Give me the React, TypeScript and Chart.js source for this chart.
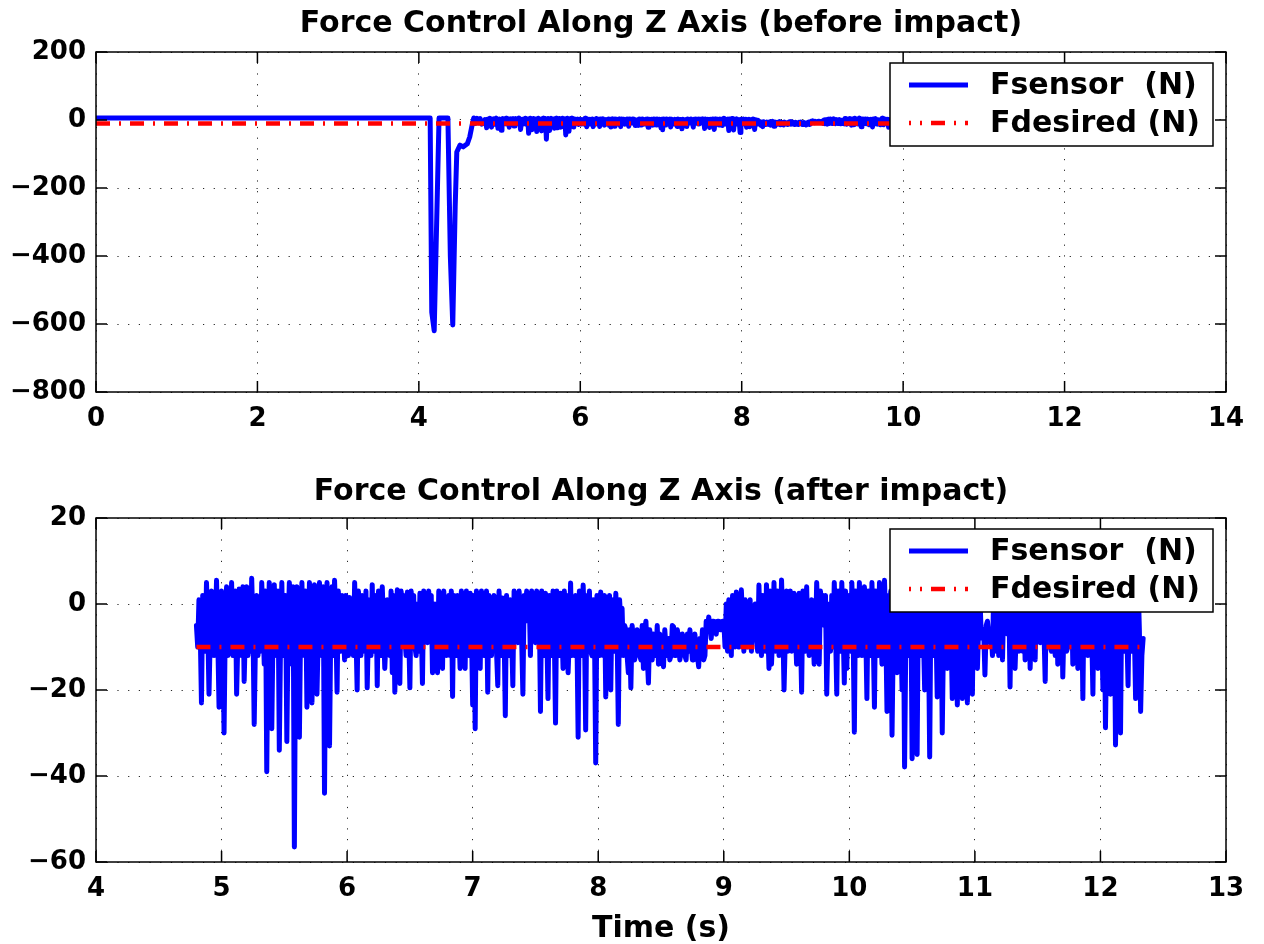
import React, { useEffect, useRef } from "react";
import { Chart, registerables } from "chart.js";

Chart.register(...registerables);

// ---------- text ----------
const topTitle = "Force Control Along Z Axis (before impact)";
const bottomTitle = "Force Control Along Z Axis (after impact)";
const xAxisTitle = "Time (s)";
const sensorLabel = "Fsensor  (N)";
const desiredLabel = "Fdesired (N)";

// ---------- ticks ----------
const topXTicks = [0, 2, 4, 6, 8, 10, 12, 14];
const topYTicks = [200, 0, -200, -400, -600, -800];
const bottomXTicks = [4, 5, 6, 7, 8, 9, 10, 11, 12, 13];
const bottomYTicks = [20, 0, -20, -40, -60];

// ---------- data ----------
// before and during impact (s, N)
const preImpactTime = [0, 4.14, 4.16, 4.19, 4.25, 4.36, 4.39, 4.42, 4.45, 4.47, 4.51, 4.55, 4.6, 4.63, 4.66, 4.68, 4.7, 4.72, 4.74, 4.76, 4.78];
const preImpactForce = [6, 6, -565, -620, 6, 6, -400, -603, -256, -94, -74, -79, -70, -50, -15, 6, -10, 5, -8, 4, -12];

// after impact: peak samples every 0.02 s from 4.80 s
const postImpactStart = 4.8;
const postImpactStep = 0.02;
const postImpactForce = [
  -5, 1, -23, -8, 5, -21, 3, -12, 5.5, -24,
  3, -30, 4, -8, 5, -10, -21, 3.5, -12, -18,
  4, -8, 6, -28, 2, -5, 5, -14, -39, 5,
  -29, 4.5, -12, -34, 5, -10, -32, 5, -14, -56.5,
  4, -31, 5, -12, -24, 5, -23, 4.5, -21, 5,
  -12, -44, 5, -33, 4, 5.5, -20.5, -5, 2, -13,
  -3, 1.5, -8, 5, -20, -2, 2, -10, -19.5, 1,
  4.5, -8, -19, -2, 4, -15, 1, -12, -16, -20.5,
  3.3, -18.5, -1, -8, 2.8, -19.5, -3, -10, 0, 2.5,
  -18.5, -2, -9, -5, -16, 0, -16, -1, -15, -7,
  -4, -12, -21.5, -3, 2, -15, -5, -15, -2, 2.5,
  -23.5, -29, -4, -15, -2, -6, -20.5, -1, -4, -3,
  -19, -6, 1.4, -26, -5, 1, -19, -3, -9, -2,
  -21, -3, -4, -12, -3, -9, -6, -25, -2, 2.5,
  -22, -1, 3, -27.7, -4, 2.5, -15, -3, -16, 4.9,
  -5, 2, -31, -3, 4.4, -29.3, -4, -11, 1, -37,
  -10, 2.8, -12, -21.6, -6, -20, -5, 2.5, -28, -4,
  -12, -6, -16, -19.5, -8, -11, -7, -13, -15, -4,
  -18.4, -9, -7, -12, -14, -8, -14.6, -10, -8, -12,
  -5.3, -12, -8, -11, -9, -13, -11, -9, -13, -11,
  -14.6, -12, -13, -4, -3, -8, -4, -7, -4, -6,
  -4, 0, 1, -12, -2, 2.8, -10, 3.3, -11, -3,
  -2, -11, -1.4, -8, 4.4, -12, -4, 4.5, -15, -14,
  5, -8, -12, 5.6, -20, 3, -7, -11, 2.5, -14,
  2.5, -20.5, -2, 4, -12, 1, -14, 5, -14, -1,
  -5, -21, 0, 2, 5, -21, -3, 5, -18.4, -15,
  -2, 5, -29.8, -6, 5, -12, 4, -22, -4, 5,
  -24, -3, 5, -14, 5.5, -25, -3, -30.5, 5, -16,
  3, -20, -37.9, 4, -10, -36, 5, -35, -8, 5,
  -20, 4, -35.6, -5, 3, -21.6, -4, -30, 2, -15,
  4, -22, -3, -23.5, 3, -22, -5, -23, 4, -21,
  -4, -15, 2, -8, -16.5, -4, -9, -12, -6, 3,
  -11, -13, -4, -7, -19.3, -2, -15, 4, -8, -11,
  -13, -3, -15, 2, -13, -6, -9, 3, -18, -5,
  -10, 4, -12, -14, -3, -17, 2, -10, -8, -14,
  4, -15, -6, -22, -3, -12, 4, -21, -7, -15,
  3, -20, -28.8, 2, -21, -4, -32.8, 3, -30, -5,
  4, -19, -8, 3, -22, 5, -25, -8,
];
// in-between samples (0.01 s after each peak sample) filling the dense band
const postImpactMid = [
  -10, -6, 2, -11, -5, -7, -4, -6, -8, -3,
  -6, -4, -12, -10, -12, 3, -8, -5, 4, -6,
  -12, -11, -5, -9, -12, -11, -4, 3, -7, -3,
  -6, -11, 3, -8, -12, 2, -5, -9, 4, -6,
  -7, -4, -10, 3, -9, -5, -8, -3, -7, -11,
  4, -6, -9, -5, -12, -4, 3, -11, -6, 2,
  -12, -11, -12, -6, 3, -12, -11, 3, -6, -12,
  -11, 2, 3, -12, -5, -8, -10, 3, 2, -7,
  -5, 3, 2, -12, -6, 3, 2, -12, -11, -4,
  3, 2, 3, 2, -8, -6, 3, 2, 3, -12,
  2, 3, 2, -12, -6, 3, 2, 3, -12, -5,
  2, 3, 2, 3, -12, 3, 2, -12, 2, -11,
  3, -12, -6, 2, -12, -7, 3, 1, 3, -8,
  2, 3, 2, 3, 2, 3, 1, 3, -12, -6,
  2, -12, -7, 3, -12, -5, 3, 2, -8, -12,
  -12, -6, 3, -12, -5, 2, 3, -12, -6, 2,
  -12, -10, 2, 1, 2, 1, -11, -6, 1, -1,
  -5, -12, -6, -5, -13, -6, -12, -5, -6, -12,
  -6, -13, -12, -5, -7, -13, -6, -12, -13, -5,
  -12, -6, -13, -7, -12, -7, -6, -13, -7, -12,
  -8, -6, -12, -6, -5, -4, -6, -4, -6, -4,
  -10, -11, -8, 2, -10, -9, -7, -4, 1, -10,
  1, -3, 0, -11, -6, 2, -11, -5, 3, -7,
  -11, 3, -9, -5, -8, -11, 3, -9, -6, -4,
  -6, 3, -11, -8, -10, -6, -9, -5, 3, 2,
  2, -7, -11, -10, -6, 3, -11, -5, 3, 2,
  -11, -6, 3, -12, -9, -7, -5, 3, -12, -7,
  3, -12, -6, -9, -5, 2, 3, -8, -6, 2,
  -6, 2, -8, -12, 3, -7, -5, 2, -12, -7,
  -8, -6, 2, -12, -5, 3, 2, -8, -6, -4,
  -6, 3, 2, -8, -5, 3, 2, -7, -6, 2,
  -6, -5, -7, -6, -5, -7, -6, 3, -11, -12,
  2, 1, 2, 3, 1, 2, -6, -11, 2, 1,
  2, 3, -5, -6, 2, 3, -8, -6, 3, 2,
  -11, -8, 3, 2, 3, -5, -11, 2, 3, 2,
  -6, 3, 2, 3, 2, -8, -6, 3, 2, 3,
  -6, 2, -8, -6, 3, 2, -8, -6, 3, -11,
  -6, 2, -11, -6, -7, -6, -12,
];

// desired force reference
const desiredTimeTop = [0, 12.32];
const desiredTimeBottom = [4.8, 12.32];
const desiredForce = [-10, -10];

// ---------- styling ----------
const FONT = "'DejaVu Sans', 'Liberation Sans', sans-serif";
const BLUE = "#0000ff";
const RED = "#ff0000";
const W = 1264;
const H = 472;

const toPoints = (xs: number[], ys: number[]) => xs.map((x, i) => ({ x, y: ys[i] }));
const postPoints = postImpactForce.flatMap((v, i) => {
  const t = postImpactStart + i * postImpactStep;
  const pts = [{ x: t, y: v }];
  if (i < postImpactMid.length) pts.push({ x: t + postImpactStep / 2, y: postImpactMid[i] });
  return pts;
});
const prePoints = toPoints(preImpactTime, preImpactForce);

const fmt = (v: number) => String(v).replace("-", "\u2212");

const matlabPlugin = {
  id: "matlabLook",
  afterDatasetsDraw(chart: any) {
    const { ctx, chartArea } = chart;
    const bw = 323, bh = 83;
    const bx = chartArea.right - 13 - bw;
    const by = chartArea.top + 11;
    ctx.save();
    ctx.fillStyle = "#fff";
    ctx.fillRect(bx, by, bw, bh);
    ctx.strokeStyle = "#000";
    ctx.lineWidth = 1.5;
    ctx.strokeRect(bx, by, bw, bh);
    chart.data.datasets.forEach((ds: any, i: number) => {
      const y = by + 22 + i * 38;
      ctx.beginPath();
      ctx.setLineDash(ds.borderDash || []);
      ctx.lineDashOffset = ds.borderDash ? 12 : 0;
      ctx.lineWidth = Math.min(ds.borderWidth, 5);
      ctx.strokeStyle = ds.borderColor;
      ctx.lineCap = "butt";
      ctx.moveTo(bx + 19, y);
      ctx.lineTo(bx + 78, y);
      ctx.stroke();
      ctx.setLineDash([]);
      ctx.fillStyle = "#000";
      ctx.font = `bold 30px ${FONT}`;
      ctx.textBaseline = "middle";
      ctx.textAlign = "left";
      ctx.fillText(ds.label, bx + 100, y + 1);
    });
    ctx.restore();
  },
  afterDraw(chart: any) {
    const { ctx, chartArea } = chart;
    const { left, right, top, bottom } = chartArea;
    const xs = chart.scales.x;
    const ys = chart.scales.y;
    ctx.save();
    ctx.strokeStyle = "#000";
    ctx.lineWidth = 1.5;
    ctx.setLineDash([]);
    ctx.strokeRect(left, top, right - left, bottom - top);
    ctx.beginPath();
    xs.ticks.forEach((t: any) => {
      const px = xs.getPixelForValue(t.value);
      ctx.moveTo(px, bottom);
      ctx.lineTo(px, bottom - 11);
      ctx.moveTo(px, top);
      ctx.lineTo(px, top + 11);
    });
    ys.ticks.forEach((t: any) => {
      const py = ys.getPixelForValue(t.value);
      ctx.moveTo(left, py);
      ctx.lineTo(left + 11, py);
      ctx.moveTo(right, py);
      ctx.lineTo(right - 11, py);
    });
    ctx.stroke();
    ctx.restore();
  },
};

function makeConfig(opts: {
  title: string;
  titlePadTop: number;
  titlePadBottom: number;
  xTicks: number[];
  yTicks: number[];
  sensor: { x: number; y: number }[];
  desired: { x: number; y: number }[];
  xAxisHeight: number;
  showXTitle: boolean;
}): any {
  const tickFont = { family: FONT, size: 26, weight: "bold" as const };
  return {
    type: "line",
    data: {
      datasets: [
        {
          label: sensorLabel,
          data: opts.sensor,
          borderColor: BLUE,
          backgroundColor: BLUE,
          borderWidth: 5,
          pointRadius: 0,
          tension: 0,
          borderCapStyle: "round",
          borderJoinStyle: "round",
          fill: false,
          order: 2,
        },
        {
          label: desiredLabel,
          data: opts.desired,
          borderColor: RED,
          backgroundColor: RED,
          borderWidth: 4.5,
          borderDash: [14, 9, 2, 9],
          pointRadius: 0,
          tension: 0,
          borderCapStyle: "butt",
          fill: false,
          order: 1,
        },
      ],
    },
    options: {
      animation: false,
      responsive: false,
      devicePixelRatio: 1,
      layout: { padding: { left: 0, right: 38, top: 0, bottom: 0 } },
      plugins: {
        legend: { display: false },
        tooltip: { enabled: false },
        title: {
          display: true,
          fullSize: false,
          text: opts.title,
          color: "#000",
          font: { family: FONT, size: 30, weight: "bold" },
          padding: { top: opts.titlePadTop, bottom: opts.titlePadBottom },
        },
      },
      scales: {
        x: {
          type: "linear",
          min: opts.xTicks[0],
          max: opts.xTicks[opts.xTicks.length - 1],
          afterBuildTicks: (scale: any) => {
            scale.ticks = opts.xTicks.map((v) => ({ value: v }));
          },
          afterFit: (scale: any) => {
            scale.height = opts.xAxisHeight;
          },
          ticks: {
            color: "#000",
            font: tickFont,
            padding: 12,
            maxRotation: 0,
            autoSkip: false,
            callback: (v: number) => fmt(v),
          },
          grid: { color: "rgba(0,0,0,0.85)", lineWidth: 1, drawTicks: false },
          border: { display: false, dash: [1.2, 9.5] },
          title: {
            display: opts.showXTitle,
            text: xAxisTitle,
            color: "#000",
            font: { family: FONT, size: 30, weight: "bold" },
            padding: { top: 0, bottom: -3 },
          },
        },
        y: {
          type: "linear",
          min: Math.min(...opts.yTicks),
          max: Math.max(...opts.yTicks),
          afterBuildTicks: (scale: any) => {
            scale.ticks = [...opts.yTicks].reverse().map((v) => ({ value: v }));
          },
          afterFit: (scale: any) => {
            scale.width = 96;
          },
          ticks: {
            color: "#000",
            font: tickFont,
            padding: 10,
            autoSkip: false,
            callback: (v: number) => fmt(v),
          },
          grid: { color: "rgba(0,0,0,0.85)", lineWidth: 1, drawTicks: false },
          border: { display: false, dash: [1.2, 9.5] },
        },
      },
    },
    plugins: [matlabPlugin],
  };
}

function ChartCanvas({ config, top }: { config: any; top: number }) {
  const ref = useRef<HTMLCanvasElement | null>(null);
  useEffect(() => {
    if (!ref.current) return;
    const chart = new Chart(ref.current, config);
    return () => chart.destroy();
  }, [config]);
  return (
    <canvas
      ref={ref}
      width={W}
      height={H}
      style={{ position: "absolute", left: 0, top, width: W, height: H, display: "block" }}
    />
  );
}

const topConfig = makeConfig({
  title: topTitle,
  titlePadTop: 6,
  titlePadBottom: 10,
  xTicks: topXTicks,
  yTicks: topYTicks,
  sensor: [...prePoints, ...postPoints],
  desired: toPoints(desiredTimeTop, desiredForce),
  xAxisHeight: 80,
  showXTitle: false,
});

const bottomConfig = makeConfig({
  title: bottomTitle,
  titlePadTop: 2,
  titlePadBottom: 8,
  xTicks: bottomXTicks,
  yTicks: bottomYTicks,
  sensor: postPoints,
  desired: toPoints(desiredTimeBottom, desiredForce),
  xAxisHeight: 82,
  showXTitle: true,
});

export default function App() {
  return (
    <div style={{ position: "absolute", left: 0, top: 0, width: W, height: 2 * H, background: "#fff" }}>
      <ChartCanvas config={topConfig} top={0} />
      <ChartCanvas config={bottomConfig} top={H} />
    </div>
  );
}
